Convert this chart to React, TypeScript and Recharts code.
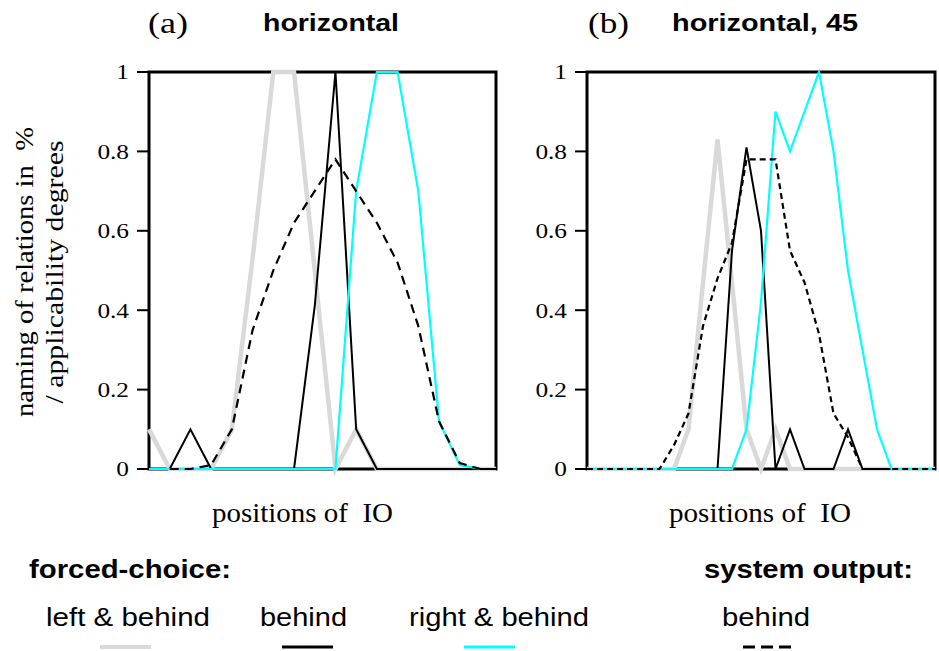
import React from 'react';
import { LineChart, Line, XAxis, YAxis } from 'recharts';

// ---------- data ----------
const positionsA = [0, 1, 2, 3, 4, 5, 6, 7, 8, 9, 10, 11, 12, 13, 14, 15, 16, 16.75];
const leftBehindA = [0.1, 0, 0, 0, 0.1, 0.53, 1, 1, 0.5, 0, 0.1, 0, 0, 0, 0, 0, 0, 0];
const behindA = [0, 0, 0.1, 0, 0, 0, 0, 0, 0.41, 1, 0.1, 0, 0, 0, 0, 0, 0, 0];
const rightBehindA = [0, 0, 0, 0, 0, 0, 0, 0, 0, 0, 0.7, 1, 1, 0.7, 0.12, 0.01, 0, null];
const systemBehindA = [null, 0, 0, 0.01, 0.1, 0.35, 0.5, 0.62, 0.7, 0.78, 0.7, 0.62, 0.52, 0.36, 0.12, 0.015, 0, 0];

const positionsB = [0, 1, 2, 3, 4, 5, 6, 7, 8, 9, 10, 11, 12, 13, 14, 15, 16, 17, 18, 19, 20, 21, 22, 23, 24];
const leftBehindB = [0, 0, 0, 0, 0, 0, 0, 0.1, 0.47, 0.83, 0.47, 0.1, 0, 0.1, 0, 0, 0, 0, 0, 0, 0, 0, 0, 0, 0];
const behindB = [0, 0, 0, 0, 0, 0, 0, 0, 0, 0, 0.55, 0.81, 0.6, 0, 0.1, 0, 0, 0, 0.1, 0, 0, 0, 0, 0, 0];
const rightBehindB = [0, 0, 0, 0, 0, 0, 0, 0, 0, 0, 0, 0.1, 0.42, 0.9, 0.8, 0.9, 1, 0.8, 0.5, 0.3, 0.1, 0, 0, 0, 0];
const systemBehindB = [0, 0, 0, 0, 0, 0, 0.06, 0.14, 0.36, 0.48, 0.57, 0.78, 0.78, 0.78, 0.55, 0.47, 0.34, 0.14, 0.08, 0, 0, 0, 0, 0, 0];

const yTicks = [0, 0.2, 0.4, 0.6, 0.8, 1];

const legendItems = [
  { label: 'left & behind', color: '#d9d9d9', width: 4, dash: undefined },
  { label: 'behind', color: '#000000', width: 3, dash: undefined },
  { label: 'right & behind', color: '#00ffff', width: 3, dash: undefined },
  { label: 'behind', color: '#000000', width: 3, dash: '12 6' },
];

// ---------- layout ----------
const CHART_H = 560;
const M_TOP = 72;
const M_RIGHT = 4;
const X_AXIS_H = 91;
const PLOT_H = CHART_H - M_TOP - X_AXIS_H;
const TICK_SIZE = 12;

const panels = [
  { left: 0, width: 500, yAxisWidth: 149 },
  { left: 470, width: 469, yAxisWidth: 117 },
];

// ---------- helpers ----------
const toPoints = (xs: number[], ys: (number | null)[]) =>
  xs.map((x, i) => ({ x, y: ys[i] }));

const SERIF = '"Liberation Serif", "Times New Roman", serif';
const SANS = '"Liberation Sans", Arial, sans-serif';

const YTick = (props: any) => {
  const { x, y, payload } = props;
  return (
    <g transform={`translate(${x},${y}) scale(1.15,1)`}>
      <text x={0} y={0} dy="0.34em" textAnchor="end" fontFamily={SERIF} fontSize={22} fill="#000" stroke="none">
        {String(payload.value)}
      </text>
    </g>
  );
};

type PanelProps = {
  idx: number;
  domainMax: number;
  xs: number[];
  gray: (number | null)[];
  black: (number | null)[];
  cyan: (number | null)[];
  dashed: (number | null)[];
  dash: string;
};

const Panel = ({ idx, domainMax, xs, gray, black, cyan, dashed, dash }: PanelProps) => {
  const p = panels[idx];
  return (
    <div style={{ position: 'absolute', left: p.left, top: 0 }}>
      <LineChart width={p.width} height={CHART_H} margin={{ top: M_TOP, right: M_RIGHT, left: 0, bottom: 0 }}>
        <XAxis
          xAxisId="b"
          type="number"
          dataKey="x"
          domain={[0, domainMax]}
          height={X_AXIS_H}
          tick={false}
          tickLine={false}
          axisLine={false}
        />
        <YAxis
          yAxisId="l"
          type="number"
          domain={[0, 1]}
          ticks={yTicks}
          width={p.yAxisWidth}
          tickSize={TICK_SIZE}
          tickMargin={8}
          tick={<YTick />}
          tickLine={false}
          axisLine={false}
        />
        <Line xAxisId="b" yAxisId="l" data={toPoints(xs, gray)} dataKey="y" type="linear" stroke="#d9d9d9" strokeWidth={4.5} dot={false} activeDot={false} isAnimationActive={false} />
        <Line xAxisId="b" yAxisId="l" data={toPoints(xs, black)} dataKey="y" type="linear" stroke="#000" strokeWidth={2} dot={false} activeDot={false} isAnimationActive={false} />
        <Line xAxisId="b" yAxisId="l" data={toPoints(xs, cyan)} dataKey="y" type="linear" stroke="#00ffff" strokeWidth={2.2} dot={false} activeDot={false} isAnimationActive={false} />
        <Line xAxisId="b" yAxisId="l" data={toPoints(xs, dashed)} dataKey="y" type="linear" stroke="#000" strokeWidth={2.2} strokeDasharray={dash} dot={false} activeDot={false} isAnimationActive={false} />
      </LineChart>
    </div>
  );
};

// frame + tick marks derived from the same layout constants as the charts (drawn beneath the series)
const Frames = () => (
  <g>
    {panels.map((p, i) => {
      const x0 = p.left + p.yAxisWidth;
      const x1 = p.left + p.width - M_RIGHT;
      const y0 = M_TOP;
      const y1 = M_TOP + PLOT_H;
      return (
        <g key={i}>
          <rect x={x0} y={y0} width={x1 - x0} height={y1 - y0} fill="none" stroke="#000" strokeWidth={3} />
          {yTicks.map((t) => {
            const ty = y0 + (1 - t) * PLOT_H;
            return <line key={t} x1={x0 - TICK_SIZE} x2={x0} y1={ty} y2={ty} stroke="#000" strokeWidth={2} />;
          })}
        </g>
      );
    })}
  </g>
);

export default function App() {
  return (
    <div style={{ position: 'absolute', left: 0, top: 0, width: 939, height: 651, background: '#fff' }}>
      <svg width={939} height={651} style={{ position: 'absolute', left: 0, top: 0, pointerEvents: 'none' }}>
        <Frames />
      </svg>
      <Panel idx={0} domainMax={16.75} xs={positionsA}
        gray={leftBehindA} black={behindA} cyan={rightBehindA} dashed={systemBehindA} dash="9 6" />
      <Panel idx={1} domainMax={24} xs={positionsB}
        gray={leftBehindB} black={behindB} cyan={rightBehindB} dashed={systemBehindB} dash="6 4" />
      <svg width={939} height={651} style={{ position: 'absolute', left: 0, top: 0, pointerEvents: 'none' }}>
        {/* titles */}
        <text x={148} y={33} fontFamily={SERIF} fontSize={29} textLength={40} lengthAdjust="spacingAndGlyphs">(a)</text>
        <text x={263} y={31} fontFamily={SANS} fontWeight="bold" fontSize={24} textLength={136} lengthAdjust="spacingAndGlyphs">horizontal</text>
        <text x={588} y={33} fontFamily={SERIF} fontSize={29} textLength={41} lengthAdjust="spacingAndGlyphs">(b)</text>
        <text x={672} y={31} fontFamily={SANS} fontWeight="bold" fontSize={24} textLength={186} lengthAdjust="spacingAndGlyphs">horizontal, 45</text>
        {/* y axis label */}
        <g transform="translate(33,272) rotate(-90)">
          <text x={0} y={0} textAnchor="middle" fontFamily={SERIF} fontSize={26} textLength={290} lengthAdjust="spacingAndGlyphs" style={{ whiteSpace: 'pre' }}>naming of relations in  %</text>
        </g>
        <g transform="translate(63,272) rotate(-90)">
          <text x={0} y={0} textAnchor="middle" fontFamily={SERIF} fontSize={26} textLength={263} lengthAdjust="spacingAndGlyphs">/ applicability degrees</text>
        </g>
        {/* x axis labels */}
        <text x={212} y={522} fontFamily={SERIF} fontSize={27} textLength={181} lengthAdjust="spacingAndGlyphs" style={{ whiteSpace: 'pre' }}>positions of  IO</text>
        <text x={669} y={522} fontFamily={SERIF} fontSize={27} textLength={182} lengthAdjust="spacingAndGlyphs" style={{ whiteSpace: 'pre' }}>positions of  IO</text>
        {/* legend */}
        <text x={29} y={578} fontFamily={SANS} fontWeight="bold" fontSize={26} textLength={202} lengthAdjust="spacingAndGlyphs">forced-choice:</text>
        <text x={704} y={578} fontFamily={SANS} fontWeight="bold" fontSize={26} textLength={209} lengthAdjust="spacingAndGlyphs">system output:</text>
        {[
          { x: 46, len: 164, lx: 100 },
          { x: 260, len: 87, lx: 282 },
          { x: 409, len: 180, lx: 464 },
          { x: 722, len: 88, lx: 743 },
        ].map((p, i) => (
          <g key={i}>
            <text x={p.x} y={626} fontFamily={SANS} fontSize={26} textLength={p.len} lengthAdjust="spacingAndGlyphs">{legendItems[i].label}</text>
            <line x1={p.lx} x2={p.lx + 51} y1={647} y2={647} stroke={legendItems[i].color} strokeWidth={legendItems[i].width} strokeDasharray={legendItems[i].dash} />
          </g>
        ))}
      </svg>
    </div>
  );
}
